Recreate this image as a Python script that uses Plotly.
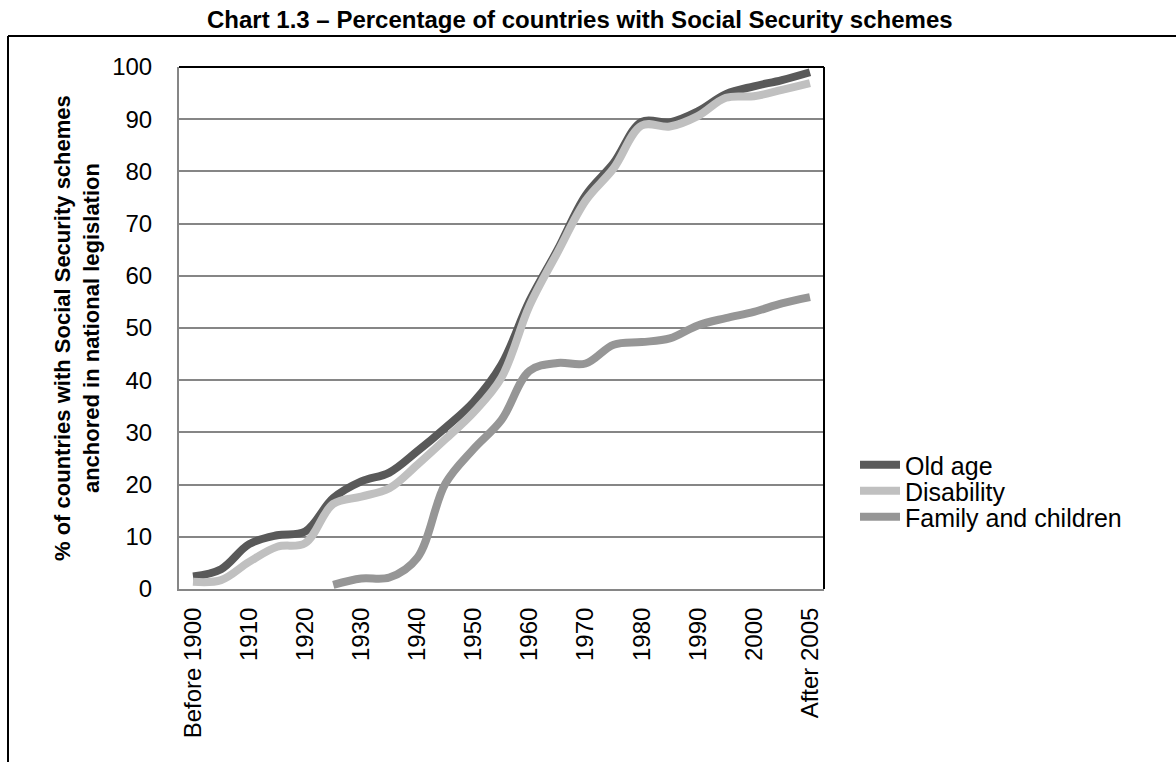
import plotly.graph_objects as go

categories = ["Before 1900", "1905", "1910", "1915", "1920", "1925", "1930", "1935",
              "1940", "1945", "1950", "1955", "1960", "1965", "1970", "1975",
              "1980", "1985", "1990", "1995", "2000", "2005", "After 2005"]
tick_labels = ["Before 1900", "1910", "1920", "1930", "1940", "1950", "1960",
               "1970", "1980", "1990", "2000", "After 2005"]

old_age = [2.4, 3.8, 8.6, 10.3, 11.0, 17.4, 20.6, 22.3, 26.4, 30.9, 35.8, 43.0,
           55.2, 65.0, 75.4, 81.6, 89.5, 89.4, 91.5, 94.8, 96.3, 97.5, 99.0]
disability = [1.4, 1.7, 5.2, 8.1, 8.8, 16.3, 17.7, 19.3, 23.8, 28.7, 33.8, 40.5,
              54.3, 64.5, 74.4, 80.6, 88.8, 88.6, 90.6, 94.1, 94.4, 95.6, 96.9]
family = [None, None, None, None, None, 0.8, 2.0, 2.2, 6.0, 20.2, 26.8, 32.4,
          41.8, 43.3, 43.2, 46.8, 47.3, 48.0, 50.5, 51.9, 53.1, 54.7, 55.9]

FONT = "Liberation Sans, Arial, sans-serif"
W, H = 1176, 762
L, R, T, B = 179, 824, 67, 589
pw, ph = R - L, B - T


def px_x(p):
    return (p - L) / pw


def px_y(p):
    return (B - p) / ph


fig = go.Figure()
series = [("Old age", old_age, "#595959", "legend", 465),
          ("Disability", disability, "#c0c0c0", "legend2", 491),
          ("Family and children", family, "#969696", "legend3", 517)]
legend_cfg = {}
for name, vals, col, lg, ly in series:
    fig.add_trace(go.Scatter(
        x=categories, y=vals, name=name, mode="lines", legend=lg,
        line=dict(color=col, width=8, shape="spline", smoothing=1),
        connectgaps=False))
    legend_cfg[lg] = dict(x=px_x(855), y=px_y(ly), xanchor="left", yanchor="middle",
                          font=dict(family=FONT, size=25, color="black"),
                          bgcolor="rgba(0,0,0,0)", itemwidth=40,
                          borderwidth=0)

fig.update_layout(
    width=W, height=H,
    margin=dict(l=L, r=W - R, t=T, b=H - B),
    paper_bgcolor="white", plot_bgcolor="white",
    font=dict(family=FONT, color="black", size=24),
    showlegend=True,
    xaxis=dict(type="category", categoryorder="array", categoryarray=categories,
               range=[-0.5, len(categories) - 0.5],
               tickmode="array", tickvals=tick_labels, ticktext=tick_labels,
               tickangle=-90, showgrid=False, showline=True,
               linecolor="#868686", linewidth=2, ticks="",
               tickfont=dict(family=FONT, size=24, color="black"),
               ticklabelstandoff=7, zeroline=False),
    yaxis=dict(range=[0, 100], dtick=10, tick0=0, showgrid=True,
               gridcolor="#868686", gridwidth=1.5, showline=True,
               linecolor="#868686", linewidth=2, ticks="",
               tickfont=dict(family=FONT, size=24, color="black"),
               ticklabelstandoff=20, zeroline=False),
    **legend_cfg,
)

# black top/right border of plot area
fig.add_shape(type="line", xref="paper", yref="paper", x0=0, x1=1, y0=1, y1=1,
              line=dict(color="black", width=2))
fig.add_shape(type="line", xref="paper", yref="paper", x0=1, x1=1, y0=0, y1=1,
              line=dict(color="black", width=2))
# outer chart frame
fig.add_shape(type="line", xref="paper", yref="paper",
              x0=px_x(8), x1=px_x(1180), y0=px_y(36), y1=px_y(36),
              line=dict(color="black", width=2))
fig.add_shape(type="line", xref="paper", yref="paper",
              x0=px_x(8), x1=px_x(8), y0=px_y(36), y1=px_y(770),
              line=dict(color="black", width=2))

fig.add_annotation(text="<b>Chart 1.3 \u2013 Percentage of countries with Social Security schemes</b>",
                   xref="paper", yref="paper", x=px_x(205), y=px_y(20),
                   xanchor="left", yanchor="middle", showarrow=False,
                   font=dict(family=FONT, size=24, color="black"))
fig.add_annotation(text="<b>% of countries with Social Security schemes<br>anchored in national legislation</b>",
                   xref="paper", yref="paper", x=px_x(77), y=0.5,
                   xanchor="center", yanchor="middle", showarrow=False,
                   textangle=-90,
                   font=dict(family=FONT, size=22, color="black"))

fig.write_html("out.html")
